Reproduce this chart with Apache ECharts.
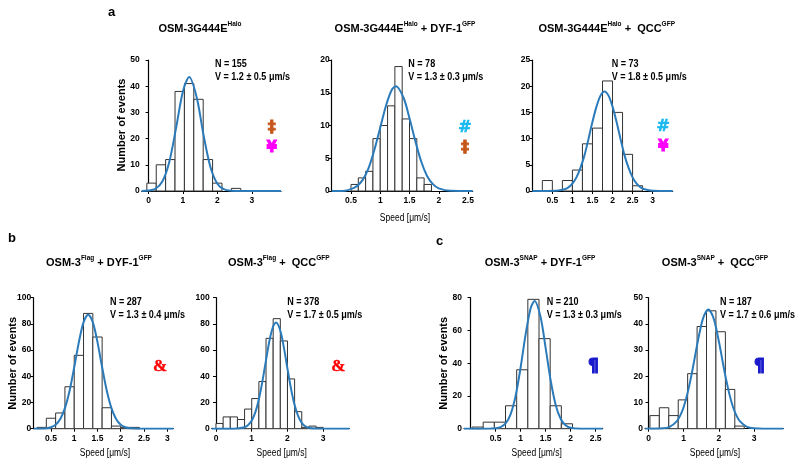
<!DOCTYPE html>
<html><head><meta charset="utf-8">
<script src="https://cdn.jsdelivr.net/npm/echarts@6/dist/echarts.min.js"></script>
<style>html,body{margin:0;padding:0;background:#fff}#c{width:800px;height:467px}</style>
</head><body><div id="c"></div>
<script>
// ---------- DATA ----------
const a1Counts = [3, 10, 12, 38, 41, 35, 12, 3, 0, 1];
const a1BinStart = -0.05, a1BinWidth = 0.273;
const a1Fit = [[-0.2,0],[0,0.15],[0.2,0.86],[0.4,3.6],[0.6,11],[0.8,24.1],[1.0,38.1],[1.18,43.5],[1.4,35.7],[1.6,21.2],[1.8,9.1],[2.0,2.8],[2.2,0.6],[2.4,0.1],[2.7,0],[3.85,0]];
const a1Ticks = [0, 1, 2, 3];

const a2Counts = [1, 2, 3, 8, 10, 13, 19, 11, 8, 2, 1];
const a2BinStart = 0.5, a2BinWidth = 0.125;
const a2Fit = [[0.17,0],[0.4,0.05],[0.5,0.28],[0.6,0.74],[0.7,1.7],[0.8,3.5],[0.9,6.3],[1.0,9.7],[1.1,13.1],[1.2,15.5],[1.27,16],[1.4,14.2],[1.5,11.1],[1.6,7.6],[1.7,4.5],[1.8,2.3],[1.9,1.05],[2.0,0.41],[2.2,0.04],[2.58,0]];
const a2Ticks = [0.5, 1, 1.5, 2, 2.5];

const a3Counts = [2, 0, 2, 4, 9, 12, 21, 15, 7, 1];
const a3BinStart = 0.25, a3BinWidth = 0.25;
const a3Fit = [[0,0],[0.6,0.05],[0.8,0.32],[0.9,0.7],[1.0,1.4],[1.1,2.6],[1.2,4.4],[1.3,6.8],[1.4,9.9],[1.5,13.2],[1.6,16.1],[1.7,18.2],[1.8,19],[1.9,18.2],[2.0,16.1],[2.1,13.2],[2.2,9.9],[2.3,6.8],[2.4,4.4],[2.5,2.6],[2.6,1.4],[2.7,0.7],[2.8,0.32],[3.0,0.05],[3.5,0]];
const a3Ticks = [0.5, 1, 1.5, 2, 2.5, 3];

const b1Counts = [1, 8, 12, 32, 56, 88, 70, 16, 2, 1, 1];
const b1BinStart = 0.2, b1BinWidth = 0.2;
const b1Fit = [[0.13,0],[0.4,0.33],[0.5,1.1],[0.6,3.0],[0.7,7.4],[0.8,15.7],[0.9,29],[1.0,46.9],[1.1,66.1],[1.2,81.2],[1.3,87],[1.4,81.2],[1.5,66.1],[1.6,46.9],[1.7,29],[1.8,15.7],[1.9,7.4],[2.0,3.0],[2.1,1.1],[2.2,0.33],[2.4,0.02],[3.13,0]];
const b1Ticks = [0.5, 1, 1.5, 2, 2.5, 3];

const b2Counts = [4, 9, 9, 7, 15, 23, 36, 69, 84, 67, 38, 13, 1, 2, 1];
const b2BinStart = 0, b2BinWidth = 0.2;
const b2Fit = [[-0.12,0],[0.5,0.02],[0.6,0.12],[0.8,1.1],[0.9,2.75],[1.0,6.2],[1.1,12.5],[1.2,22.5],[1.3,36.3],[1.4,52.4],[1.5,67.7],[1.6,78.2],[1.68,81],[1.8,74.8],[1.9,61.9],[2.0,45.8],[2.1,30.4],[2.2,18.0],[2.3,9.6],[2.4,4.5],[2.5,1.9],[2.6,0.74],[2.8,0.08],[3.73,0]];
const b2Ticks = [0, 1, 2, 3];

const c1Counts = [1, 4, 4, 14, 36, 79, 55, 14, 3];
const c1BinStart = 0.03, c1BinWidth = 0.223;
const c1Fit = [[-0.13,0],[0.4,0.05],[0.5,0.25],[0.6,1.0],[0.7,3.2],[0.8,8.8],[0.9,19.9],[1.0,37.2],[1.1,57.4],[1.2,73.4],[1.28,78],[1.4,68.1],[1.5,49.4],[1.6,29.6],[1.7,14.7],[1.8,6.1],[1.9,2.1],[2.0,0.58],[2.2,0.03],[2.64,0]];
const c1Ticks = [0.5, 1, 1.5, 2, 2.5];

const c2Counts = [5, 8, 5, 11, 21, 39, 45, 37, 15, 1];
const c2BinStart = 0.04, c2BinWidth = 0.268;
const c2Fit = [[-0.1,0],[0.4,0.13],[0.6,0.69],[0.8,2.8],[0.9,5.0],[1.0,8.3],[1.1,13.1],[1.2,19.1],[1.3,26.1],[1.4,33.3],[1.55,42.1],[1.7,45.5],[1.85,42.1],[2.0,33.3],[2.1,26.1],[2.2,19.1],[2.3,13.1],[2.4,8.3],[2.5,5.0],[2.6,2.8],[2.8,0.69],[3.0,0.13],[3.3,0.01],[3.83,0]];
const c2Ticks = [0, 1, 2, 3];

const stats = [
  ['N = 155', 'V = 1.2 ± 0.5 μm/s'],
  ['N = 78',  'V = 1.3 ± 0.3 μm/s'],
  ['N = 73',  'V = 1.8 ± 0.5 μm/s'],
  ['N = 287', 'V = 1.3 ± 0.4 μm/s'],
  ['N = 378', 'V = 1.7 ± 0.5 μm/s'],
  ['N = 210', 'V = 1.3 ± 0.3 μm/s'],
  ['N = 187', 'V = 1.7 ± 0.6 μm/s']
];
const titles = [
  '{m|OSM-3G444E}{s|Halo}',
  '{m|OSM-3G444E}{s|Halo}{m| + DYF-1}{s|GFP}',
  '{m|OSM-3G444E}{s|Halo}{m| +  QCC}{s|GFP}',
  '{m|OSM-3}{s|Flag}{m| + DYF-1}{s|GFP}',
  '{m|OSM-3}{s|Flag}{m| +  QCC}{s|GFP}',
  '{m|OSM-3}{s|SNAP}{m| + DYF-1}{s|GFP}',
  '{m|OSM-3}{s|SNAP}{m| +  QCC}{s|GFP}'
];

// ---------- LAYOUT ----------
const FONT = "'Liberation Sans', Arial, Helvetica, sans-serif";
const SERIF = "'Liberation Serif', 'Times New Roman', serif";
const DEJA = "'DejaVu Sans', 'Liberation Sans', Arial, sans-serif";
const panels = [
  {counts:a1Counts, start:a1BinStart, bw:a1BinWidth, fit:a1Fit, ticks:a1Ticks, xMin:-0.2, xMax:3.85, yMax:50, yInt:10, left:141.7, top:60, w:139.3, h:131, tx:200, ty:29, sx:215, sy:64},
  {counts:a2Counts, start:a2BinStart, bw:a2BinWidth, fit:a2Fit, ticks:a2Ticks, xMin:0.17, xMax:2.58, yMax:20, yInt:5, left:331.7, top:60, w:141, h:131, tx:405, ty:29, sx:408.3, sy:64},
  {counts:a3Counts, start:a3BinStart, bw:a3BinWidth, fit:a3Fit, ticks:a3Ticks, xMin:0, xMax:3.5, yMax:25, yInt:5, left:532.3, top:60, w:140.4, h:131, tx:606.7, ty:29, sx:611.7, sy:64},
  {counts:b1Counts, start:b1BinStart, bw:b1BinWidth, fit:b1Fit, ticks:b1Ticks, xMin:0.12, xMax:3.13, yMax:100, yInt:20, left:33.3, top:297.7, w:140, h:131, tx:99, ty:263, sx:110, sy:302.5},
  {counts:b2Counts, start:b2BinStart, bw:b2BinWidth, fit:b2Fit, ticks:b2Ticks, xMin:-0.12, xMax:3.73, yMax:100, yInt:20, left:211.7, top:297.7, w:137.6, h:131, tx:278.8, ty:263, sx:287.3, sy:302.5},
  {counts:c1Counts, start:c1BinStart, bw:c1BinWidth, fit:c1Fit, ticks:c1Ticks, xMin:-0.13, xMax:2.64, yMax:80, yInt:20, left:464, top:297.7, w:138.7, h:131, tx:540, ty:263, sx:546.7, sy:302},
  {counts:c2Counts, start:c2BinStart, bw:c2BinWidth, fit:c2Fit, ticks:c2Ticks, xMin:-0.1, xMax:3.83, yMax:50, yInt:10, left:645, top:297.7, w:138.3, h:131, tx:715, ty:263, sx:720, sy:302.5}
];

const grid = [], xAxis = [], yAxis = [], series = [];
const labelStyle = {color:'#000', fontSize:8.5, fontWeight:'bold', fontFamily:FONT};
panels.forEach((p, i) => {
  grid.push({left:p.left, top:p.top, width:p.w, height:p.h});
  xAxis.push({type:'value', gridIndex:i, min:p.xMin, max:p.xMax,
    axisLine:{show:true, onZero:false, lineStyle:{color:'#000', width:1.2}},
    axisTick:{show:true, length:3, customValues:p.ticks, lineStyle:{color:'#000', width:1}},
    axisLabel:Object.assign({margin:5, customValues:p.ticks}, labelStyle),
    splitLine:{show:false}});
  yAxis.push({type:'value', gridIndex:i, min:0, max:p.yMax, interval:p.yInt,
    axisLine:{show:true, lineStyle:{color:'#000', width:1.2}},
    axisTick:{show:true, length:3, lineStyle:{color:'#000', width:1}},
    axisLabel:Object.assign({margin:2}, labelStyle),
    splitLine:{show:false}});
  const bins = p.counts.map((c, k) => [p.start + k * p.bw, p.start + (k + 1) * p.bw, c]);
  series.push({type:'custom', xAxisIndex:i, yAxisIndex:i, data:bins, encode:{x:[0,1], y:2}, z:2,
    renderItem:(params, api) => {
      const v = api.value(2);
      if (!v) return null;
      const p0 = api.coord([api.value(0), v]);
      const p1 = api.coord([api.value(1), 0]);
      return {type:'rect', shape:{x:p0[0], y:p0[1], width:p1[0]-p0[0], height:p1[1]-p0[1]},
        style:{fill:'#fff', stroke:'#333', lineWidth:1}};
    }});
  series.push({type:'line', xAxisIndex:i, yAxisIndex:i, data:p.fit, showSymbol:false, smooth:0.3,
    z:5, lineStyle:{color:'#2b7bba', width:2}, silent:true});
});

const graphic = [];
function txt(x, y, text, opt) {
  graphic.push(Object.assign({type:'text', x:x, y:y, silent:true,
    style:Object.assign({text:text, fill:'#000', fontFamily:FONT, fontWeight:'bold', fontSize:11, align:'left', verticalAlign:'middle'}, opt.style || {})},
    opt.el || {}));
}
const rich = {
  m:{fontSize:11, fontWeight:'bold', fontFamily:FONT, fill:'#000', lineHeight:16},
  s:{fontSize:6.5, fontWeight:'bold', fontFamily:FONT, fill:'#000', lineHeight:9, verticalAlign:'top'}
};
panels.forEach((p, i) => {
  txt(p.tx, p.ty, titles[i], {style:{rich:rich, align:'center'}});
  txt(p.sx, p.sy, stats[i][0], {style:{fontSize:10.5}, el:{scaleX:0.86}});
  txt(p.sx, p.sy + 13, stats[i][1], {style:{fontSize:10.5}, el:{scaleX:0.86}});
});
// panel letters
txt(108, 12, 'a', {style:{fontSize:13}});
txt(8, 238, 'b', {style:{fontSize:13}});
txt(436, 241, 'c', {style:{fontSize:13}});
// y axis names
[[121.7, 125], [13.3, 363.3], [444, 363.3]].forEach(pt => {
  txt(pt[0], pt[1], 'Number of events', {style:{fontSize:11, align:'center'}, el:{rotation:Math.PI/2}});
});
// x axis names
[[405, 218], [105, 453], [281.7, 453], [536.7, 453], [715, 453]].forEach(pt => {
  txt(pt[0], pt[1], 'Speed [μm/s]', {style:{fontSize:10, fontWeight:'normal', align:'center'}, el:{scaleX:0.85, originX:0}});
});
// significance symbols (stroked to get the heavy look)
const symStyle = (c, s, f, lw) => ({style:{fill:c, stroke:c, lineWidth:lw, fontSize:s, align:'center', fontFamily:f}});
txt(271.7, 128, '‡', symStyle('#c4561a', 16, DEJA, 0.8));
txt(271.7, 148, '¥', symStyle('#ff00ff', 15, DEJA, 0.8));
txt(465, 128, '#', symStyle('#19b8ee', 16, DEJA, 0.6));
txt(465, 148, '‡', symStyle('#c4561a', 16, DEJA, 0.8));
txt(663.3, 127, '#', symStyle('#19b8ee', 16, DEJA, 0.6));
txt(663.3, 147, '¥', symStyle('#ff00ff', 15, DEJA, 0.8));
txt(160, 367, '&', symStyle('#ff0000', 17, SERIF, 0.4));
txt(338.3, 367, '&', symStyle('#ff0000', 17, SERIF, 0.4));
txt(593.3, 367, '¶', symStyle('#1a1acc', 17, DEJA, 1.2));
txt(759.3, 367, '¶', symStyle('#1a1acc', 17, DEJA, 1.2));

const chart = echarts.init(document.getElementById('c'), null, {renderer:'canvas'});
chart.setOption({animation:false, backgroundColor:'#fff', grid, xAxis, yAxis, series, graphic});
</script></body></html>
